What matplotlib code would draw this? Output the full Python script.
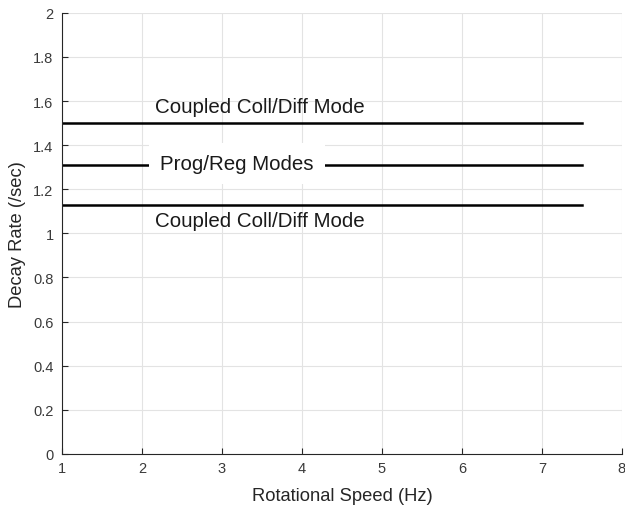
import numpy as np
import matplotlib.pyplot as plt

plt.rcParams['font.family'] = ['Liberation Sans', 'DejaVu Sans']

# rotational speed range and decay rates of each mode
speed = [1.0, 7.5]
coupled_upper = [1.50, 1.50]
prog_reg = [1.31, 1.31]
coupled_lower = [1.13, 1.13]

labels = ['Coupled Coll/Diff Mode', 'Prog/Reg Modes', 'Coupled Coll/Diff Mode']
label_x = [2.16, 2.23, 2.16]
label_y = [1.575, 1.315, 1.06]

fig = plt.figure(figsize=(6.25, 5.1), dpi=100)
ax = fig.add_axes([0.099, 0.108, 0.896, 0.865])

for yv in (coupled_upper, prog_reg, coupled_lower):
    ax.plot(speed, yv, color='black', lw=1.8, zorder=2)

for i, txt in enumerate(labels):
    if i == 1:
        ax.text(label_x[i], label_y[i], txt, fontsize=14.8, va='center', ha='left',
                color='#1a1a1a', zorder=3,
                bbox=dict(facecolor='white', edgecolor='none', pad=8))
    else:
        ax.text(label_x[i], label_y[i], txt, fontsize=14.8, va='center', ha='left',
                color='#1a1a1a', zorder=3)

ax.set_xlim(1, 8)
ax.set_ylim(0, 2)
ax.set_xticks(np.arange(1, 9, 1))
ax.set_yticks(np.arange(0, 2.01, 0.2))
ax.set_yticklabels(['0', '0.2', '0.4', '0.6', '0.8', '1', '1.2', '1.4', '1.6', '1.8', '2'])
ax.grid(True, color='#e3e3e3', lw=0.8)
ax.set_axisbelow(True)

ax.spines['top'].set_visible(False)
ax.spines['right'].set_visible(False)
for s in ('left', 'bottom'):
    ax.spines[s].set_color('#262626')
    ax.spines[s].set_linewidth(0.8)
ax.tick_params(direction='in', length=4, width=0.8, colors='#262626',
               labelsize=10.5, labelcolor='#3a3a3a')
ax.tick_params(axis='y', pad=6)
ax.tick_params(axis='x', pad=5)

ax.set_xlabel('Rotational Speed (Hz)', fontsize=13.2, color='#262626', labelpad=9)
ax.set_ylabel('Decay Rate (/sec)', fontsize=13.2, color='#262626', labelpad=5)

fig.savefig('out.png', dpi=100)
